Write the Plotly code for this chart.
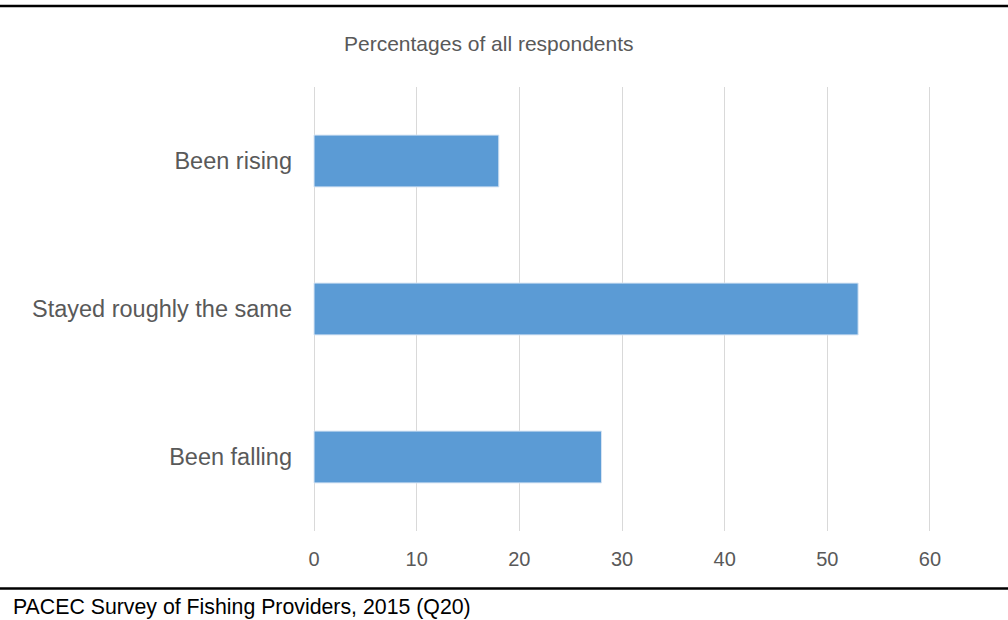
import plotly.graph_objects as go

# Survey responses (percentages of all respondents)
categories = ["Been rising", "Stayed roughly the same", "Been falling"]
values = [18, 53, 28]
x_ticks = [0, 10, 20, 30, 40, 50, 60]

FONT = "Arial, Liberation Sans, sans-serif"
GREY = "#595959"

fig = go.Figure(
    go.Bar(
        x=values,
        y=categories,
        orientation="h",
        marker=dict(color="#5B9BD5", line=dict(color="#D6E4F3", width=1)),
        width=0.35,
        hoverinfo="x+y",
    )
)

fig.update_layout(
    width=1008,
    height=620,
    margin=dict(l=313, r=77, t=87, b=89),
    paper_bgcolor="white",
    plot_bgcolor="white",
    showlegend=False,
    font=dict(family=FONT, color=GREY),
    xaxis=dict(
        range=[-0.1, 60.1],
        tickvals=x_ticks,
        showgrid=True,
        gridcolor="#D9D9D9",
        gridwidth=1,
        zeroline=False,
        showline=False,
        ticks="",
        tickfont=dict(size=20, color=GREY, family=FONT),
        ticklabelstandoff=14,
        fixedrange=True,
    ),
    yaxis=dict(
        categoryorder="array",
        categoryarray=categories[::-1],
        showgrid=False,
        zeroline=False,
        showline=False,
        ticks="",
        tickfont=dict(size=23.5, color=GREY, family=FONT),
        ticklabelstandoff=20,
        fixedrange=True,
    ),
    shapes=[
        dict(type="line", xref="paper", yref="paper",
             x0=-0.52, x1=1.14, y0=1.1824, y1=1.1824,
             line=dict(color="black", width=2.5)),
        dict(type="line", xref="paper", yref="paper",
             x0=-0.52, x1=1.14, y0=-0.1295, y1=-0.1295,
             line=dict(color="black", width=2.5)),
    ],
    annotations=[
        dict(text="Percentages of all respondents", xref="paper", yref="paper",
             x=0.285, y=1.099, xanchor="center", yanchor="middle",
             showarrow=False, font=dict(size=21, color=GREY, family=FONT)),
        dict(text="PACEC Survey of Fishing Providers, 2015 (Q20)",
             xref="paper", yref="paper", x=-0.4887, y=-0.171,
             xanchor="left", yanchor="middle", showarrow=False,
             font=dict(size=21.3, color="black", family=FONT)),
    ],
)

fig.write_html("out.html", config={"displayModeBar": False})
